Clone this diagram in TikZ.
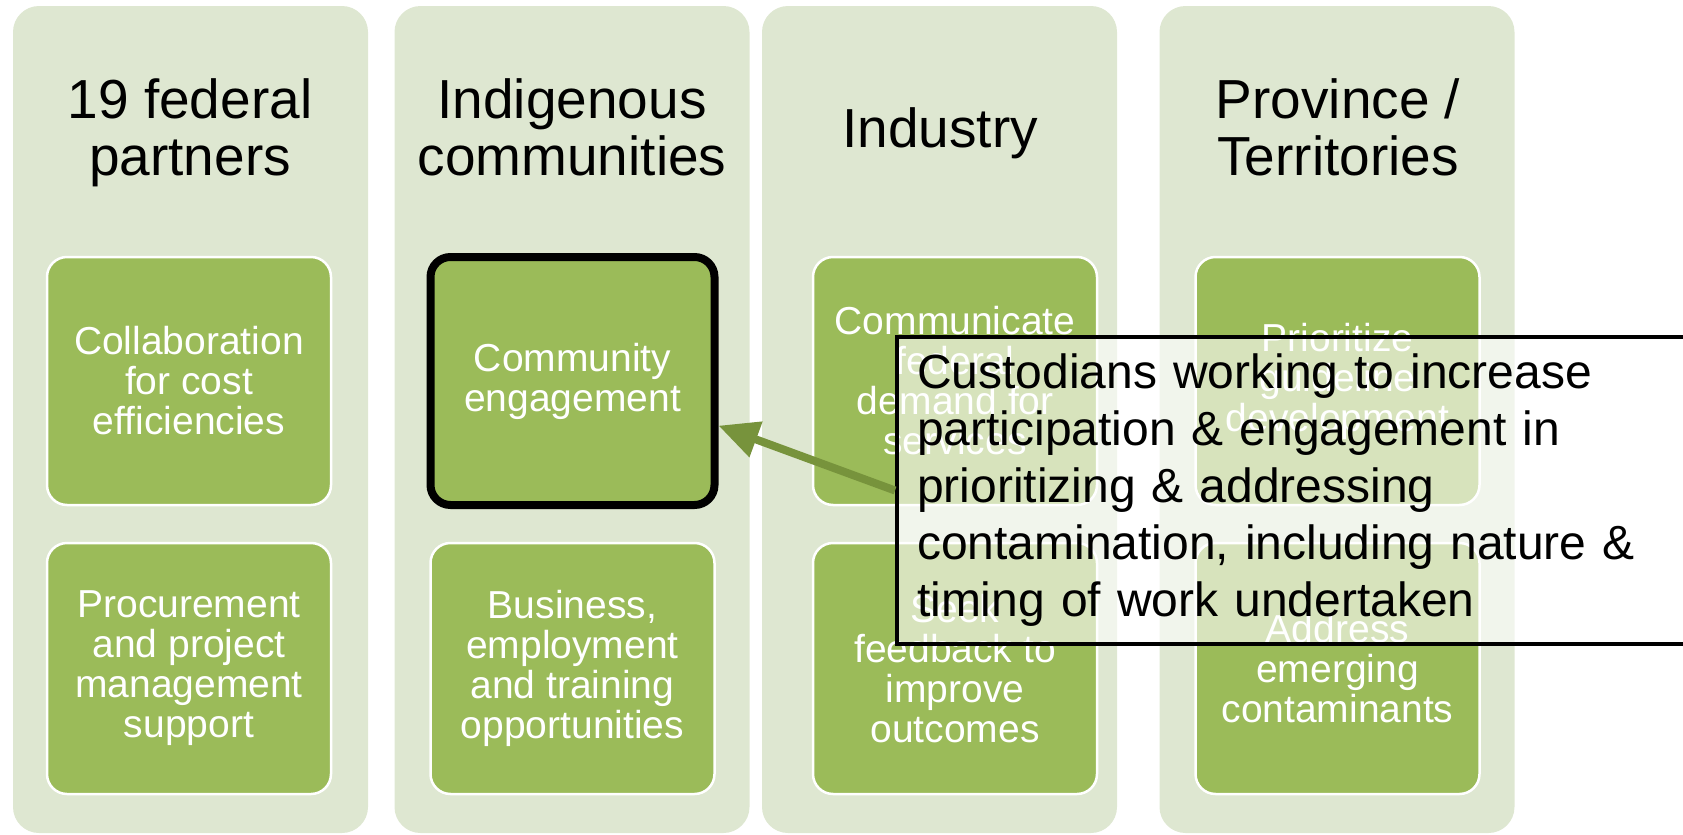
\documentclass[tikz,border=0pt]{standalone}
\usepackage{fontspec}
\setmainfont{Liberation Sans}
\usetikzlibrary{arrows.meta}
\definecolor{lanebg}{RGB}{222,231,209}
\definecolor{boxgreen}{RGB}{155,187,89}
\definecolor{arrowgreen}{RGB}{119,147,60}
\begin{document}
\begin{tikzpicture}[x=0.5pt,y=-0.5pt,
  lane/.style={fill=lanebg,rounded corners=13pt,minimum width=177.5pt,minimum height=413.5pt,inner sep=0pt},
  header/.style={font=\fontsize{27.5}{28.5}\selectfont,align=center,anchor=base},
  task/.style={fill=boxgreen,draw=white,line width=1.25pt,rounded corners=10pt,minimum width=142pt,
    text=white,align=center,font=\fontsize{19.5}{20}\selectfont,inner sep=0pt},
  topbox/.style={task,minimum height=124pt},
  botbox/.style={task,minimum height=125.5pt},
  highlight/.style={draw=black,line width=4pt},
  notebox/.style={draw=black,line width=2pt,fill=white,fill opacity=0.6,text opacity=1,
    font=\fontsize{24}{28.5}\selectfont,text width=380.5pt,align=left,inner xsep=10pt,
    minimum height=153.5pt,anchor=north west}]

\useasboundingbox (0,0) rectangle (1683,835);
\clip (0,0) rectangle (1683,835);

% Columns
\node[lane] (col1) at (190.5,419.5) {};
\node[lane] (col2) at (572,419.5) {};
\node[lane] (col3) at (939.5,419.5) {};
\node[lane] (col4) at (1337,419.5) {};

% Headers
\node[header] (head1) at (190,175) {19 federal\\partners};
\node[header] (head2) at (572,175) {Indigenous\\communities};
\node[header] (head3) at (940,147) {Industry};
\node[header] (head4) at (1338,175) {Province /\\Territories};

% Boxes
\node[topbox] (collab) at (189,381) {Collaboration\\for cost\\efficiencies};
\node[botbox] (procure) at (189,668.5) {Procurement\\and project\\management\\support};
\node[topbox,highlight] (engage) at (572.5,381) {Community\\engagement};
\node[botbox] (business) at (572.5,668.5) {Business,\\employment\\and training\\opportunities};
\node[topbox] (communicate) at (955,381) {Communicate\\federal\\demand for\\services};
\node[botbox] (feedback) at (955,668.5) {Seek\\feedback to\\improve\\outcomes};
\node[topbox] (prioritize) at (1337.5,381) {Prioritize\\guideline\\development};
\node[botbox] (address) at (1337.5,668.5) {Address\\emerging\\contaminants};

% Callout
\node[notebox] (note) at (895,335) {Custodians working to increase\\participation \& engagement in\\prioritizing \& addressing\\contamination, including nature \&\\timing of work undertaken};

\draw[arrowgreen,line width=4pt,-{Triangle[length=20pt,width=18pt]}] (note.west) -- (engage.-17);

\end{tikzpicture}
\end{document}
